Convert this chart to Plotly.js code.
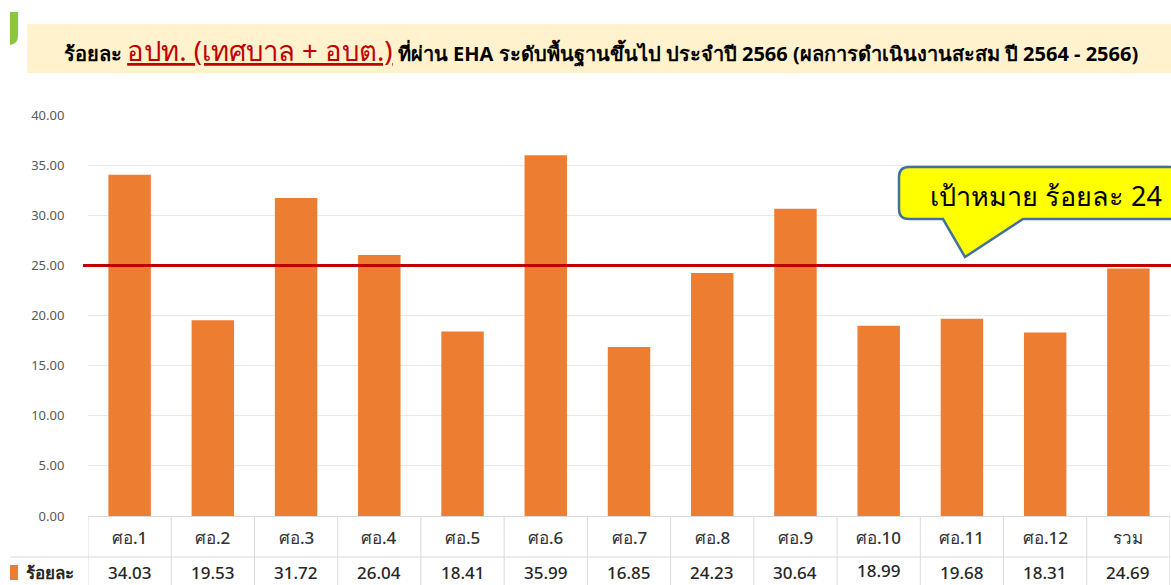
<!DOCTYPE html>
<html>
<head>
<meta charset="utf-8">
<script src="https://cdn.plot.ly/plotly-3.0.1.min.js"></script>
<style>
html,body{margin:0;padding:0;background:#fff;}
#chart{width:1171px;height:585px;}
</style>
</head>
<body>
<div id="chart"></div>
<script>
// ---- data ----
const categories = ['ศอ.1','ศอ.2','ศอ.3','ศอ.4','ศอ.5','ศอ.6','ศอ.7','ศอ.8','ศอ.9','ศอ.10','ศอ.11','ศอ.12','รวม'];
const values = [34.03,19.53,31.72,26.04,18.41,35.99,16.85,24.23,30.64,18.99,19.68,18.31,24.69];
const valueLabels = ['34.03','19.53','31.72','26.04','18.41','35.99','16.85','24.23','30.64','18.99','19.68','18.31','24.69'];
const yTicks = [0,5,10,15,20,25,30,35,40];
const targetLine = 25;
const seriesName = 'ร้อยละ';
const calloutText = 'เป้าหมาย ร้อยละ 24';
const titleBlack1 = 'ร้อยละ ';
const titleRed = 'อปท. (เทศบาล + อบต.)';
const titleBlack2 = ' ที่ผ่าน EHA ระดับพื้นฐานขึ้นไป ประจำปี 2566 (ผลการดำเนินงานสะสม ปี 2564 - 2566)';

// ---- layout geometry (pixels) ----
const W = 1171, H = 585, L = 88, R = 1, T = 115, B = 69;
const PW = W - L - R, PH = H - T - B;
const px = x => (x - L) / PW;
const py = y => (H - B - y) / PH;
const P = (x, y) => px(x) + ',' + py(y);

const FONT = "Tahoma, 'Noto Sans', 'DejaVu Sans', sans-serif";
const gridCol = '#d9d9d9';

const shapes = [];
const annotations = [];

// title band
shapes.push({type:'rect', xref:'paper', yref:'paper', x0:px(27), x1:px(1175), y0:py(73), y1:py(24),
  fillcolor:'#fff2cc', line:{width:0}, layer:'below'});
// green accent
shapes.push({type:'path', xref:'paper', yref:'paper',
  path:'M'+P(10,12)+' L'+P(18,12)+' L'+P(18,36)+' Q'+P(18,44)+' '+P(10,45)+' Z',
  fillcolor:'#8cc63f', line:{width:0}});
annotations.push({xref:'paper', yref:'paper', x:px(62), y:py(50), xanchor:'left', yanchor:'middle', showarrow:false,
  text:'<b>'+titleBlack1+'</b><span style="color:#c00000;font-size:27.5px;text-decoration:underline">'+titleRed+'</span><b>'+titleBlack2+'</b>',
  font:{family:FONT, size:20, color:'#000000'}});

// target line
shapes.push({type:'line', xref:'paper', yref:'y', x0:px(83), x1:1.01, y0:targetLine, y1:targetLine,
  line:{color:'#c00000', width:3}});

// callout
shapes.push({type:'path', xref:'paper', yref:'paper',
  path:'M'+P(909,167)+' L'+P(1195,167)+' L'+P(1195,219)+' L'+P(1023,219)+' L'+P(965,257)+' L'+P(943,219)+
       ' L'+P(909,219)+' Q'+P(899,219)+' '+P(899,209)+' L'+P(899,177)+' Q'+P(899,167)+' '+P(909,167)+' Z',
  fillcolor:'#ffff00', line:{color:'#41719c', width:2.5}});
annotations.push({xref:'paper', yref:'paper', x:px(928), y:py(195), xanchor:'left', yanchor:'middle', showarrow:false,
  text:calloutText, font:{family:FONT, size:27, color:'#000000'}});

// data table
const yTop = 516, yMid = 557, yBot = 585;
for (let i = 0; i <= categories.length; i++) {
  shapes.push({type:'line', xref:'x', yref:'paper', x0:i-0.5, x1:i-0.5, y0:py(yBot), y1:0,
    line:{color:gridCol, width:1}});
}
shapes.push({type:'line', xref:'paper', yref:'paper', x0:px(10), x1:1, y0:py(yMid), y1:py(yMid),
  line:{color:gridCol, width:1}});
categories.forEach((c, i) => {
  annotations.push({xref:'x', yref:'paper', x:c, y:py(537), xanchor:'center', yanchor:'middle', showarrow:false,
    text:c, font:{family:FONT, size:17, color:'#333333', weight:500}});
  annotations.push({xref:'x', yref:'paper', x:c, y:py(i === 9 ? 570 : 572), xanchor:'center', yanchor:'middle', showarrow:false,
    text:valueLabels[i], font:{family:FONT, size:17, color:'#262626', weight:500}});
});
// legend key
shapes.push({type:'rect', xref:'paper', yref:'paper', x0:px(10), x1:px(18), y0:py(580), y1:py(565),
  fillcolor:'#ed7d31', line:{width:0}});
annotations.push({xref:'paper', yref:'paper', x:px(24), y:py(572), xanchor:'left', yanchor:'middle', showarrow:false,
  text:'<b>'+seriesName+'</b>', font:{family:FONT, size:17, color:'#262626'}});

const trace = {
  type:'bar', x:categories, y:values, name:seriesName,
  marker:{color:'#ed7d31'}, hoverinfo:'x+y'
};

const layout = {
  width:W, height:H, margin:{l:L, r:R, t:T, b:B, pad:0},
  paper_bgcolor:'#ffffff', plot_bgcolor:'#ffffff',
  showlegend:false, bargap:0.49,
  font:{family:FONT},
  xaxis:{type:'category', showticklabels:false, showgrid:false, zeroline:false,
    showline:true, linecolor:gridCol, linewidth:1, ticks:'', range:[-0.5, categories.length-0.5]},
  yaxis:{range:[0,40], tickvals:yTicks, tickformat:'.2f', showgrid:true, gridcolor:'#e7e9ee', gridwidth:1,
    zeroline:false, showline:false, ticks:'outside', ticklen:20, tickcolor:'rgba(0,0,0,0)',
    tickfont:{family:FONT, size:13, color:'#595959'}},
  shapes:shapes, annotations:annotations
};

Plotly.newPlot('chart', [trace], layout, {displayModeBar:false, staticPlot:true});
</script>
</body>
</html>
